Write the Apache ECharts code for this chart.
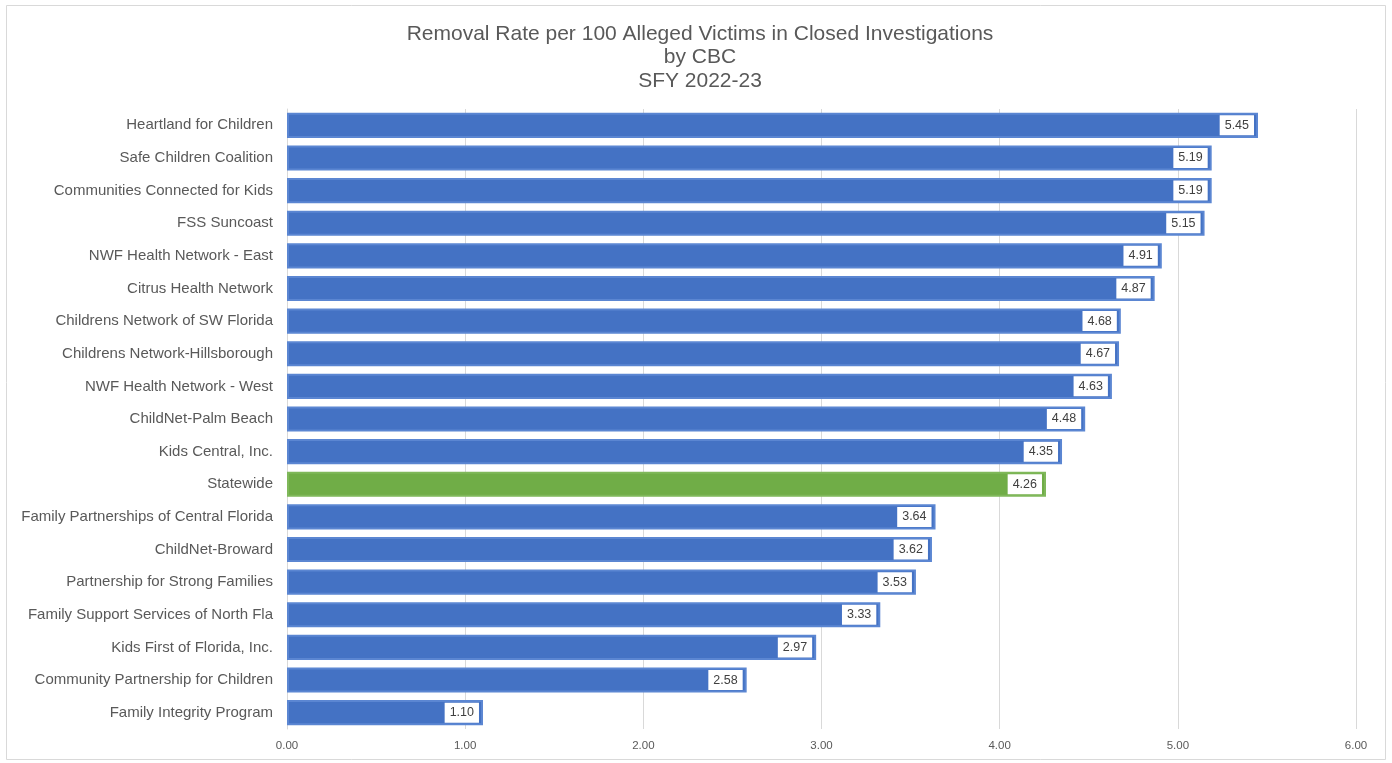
<!DOCTYPE html>
<html><head><meta charset="utf-8">
<script src="https://cdn.jsdelivr.net/npm/echarts@6/dist/echarts.min.js"></script>
<style>html,body{margin:0;padding:0;background:#fff}#c{width:1392px;height:763px}</style>
</head><body><div id="c"></div>
<script>
const categories = ["Heartland for Children","Safe Children Coalition","Communities Connected for Kids","FSS Suncoast","NWF Health Network - East","Citrus Health Network","Childrens Network of SW Florida","Childrens Network-Hillsborough","NWF Health Network - West","ChildNet-Palm Beach","Kids Central, Inc.","Statewide","Family Partnerships of Central Florida","ChildNet-Broward","Partnership for Strong Families","Family Support Services of North Fla","Kids First of Florida, Inc.","Community Partnership for Children","Family Integrity Program"];
const values = [5.45,5.19,5.19,5.15,4.91,4.87,4.68,4.67,4.63,4.48,4.35,4.26,3.64,3.62,3.53,3.33,2.97,2.58,1.10];
const highlight = "Statewide";
const titleLines = ["Removal Rate per 100 Alleged Victims in Closed Investigations","by CBC","SFY 2022-23"];

const chart = echarts.init(document.getElementById('c'));
chart.setOption({
  animation:false,
  backgroundColor:'#fff',
  title:{text:titleLines.join('\n'),left:695,top:17,textAlign:'center',
    textStyle:{fontFamily:'Liberation Sans, Arial',fontSize:21,fontWeight:'normal',color:'#595959',lineHeight:23.5}},
  graphic:[{type:'rect',shape:{x:6.5,y:5.5,width:1379,height:754},style:{fill:'none',stroke:'#d9d9d9',lineWidth:1},silent:true}],
  grid:{left:287,right:36,top:109,bottom:34,containLabel:false},
  xAxis:{type:'value',min:0,max:6,interval:1,
    axisLabel:{formatter:v=>v.toFixed(2),fontFamily:'Liberation Sans, Arial',fontSize:11.5,color:'#595959',margin:11},
    splitLine:{show:true,lineStyle:{color:'#d9d9d9',width:1}},
    axisLine:{show:false},axisTick:{show:false}},
  yAxis:{type:'category',data:categories,inverse:true,
    axisLabel:{fontFamily:'Liberation Sans, Arial',fontSize:15,color:'#595959',margin:14,padding:[3,0,0,0]},
    axisLine:{show:true,lineStyle:{color:'#d9d9d9'}},axisTick:{show:false}},
  series:[{type:'bar',barCategoryGap:'23%',
    data:values.map((v,i)=>({value:v,itemStyle:categories[i]===highlight?{color:'#70AD47',borderColor:'#7fb85a'}:{color:'#4472C4',borderColor:'#5b86d2'}})),
    itemStyle:{borderWidth:2},
    label:{show:true,position:'insideRight',distance:4,formatter:p=>p.value.toFixed(2),
      backgroundColor:'#fff',padding:[4,5,3,5],fontFamily:'Liberation Sans, Arial',fontSize:12.5,color:'#404040'}}]
});
</script></body></html>
